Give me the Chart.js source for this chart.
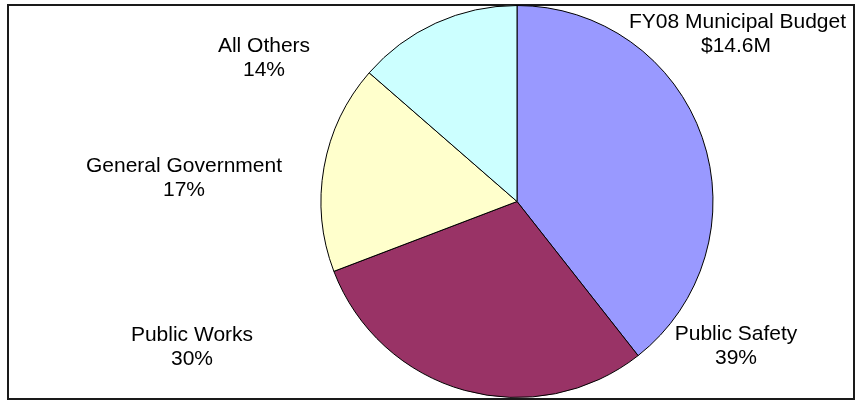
<!DOCTYPE html>
<html>
<head>
<meta charset="utf-8">
<script src="https://cdn.jsdelivr.net/npm/chart.js@4/dist/chart.umd.min.js"></script>
<style>
  html, body { margin: 0; padding: 0; background: #ffffff; }
  #wrap { width: 857px; height: 403px; position: relative; }
</style>
</head>
<body>
<div id="wrap"><canvas id="c" width="857" height="403"></canvas></div>
<script>
// ---- data ----
const categories = ["Public Safety", "Public Works", "General Government", "All Others"];
const shares = [39.4, 29.8, 17.2, 13.6];
const titleLines = ["FY08 Municipal Budget", "$14.6M"];

// ---- styling / layout (not data) ----
const sliceColors = ["#9999FF", "#993366", "#FFFFCC", "#CCFFFF"];
const labelPos = [
  { x: 736, y: 340 },   // Public Safety
  { x: 192, y: 341 },   // Public Works
  { x: 184, y: 172 },   // General Government
  { x: 264, y: 52 }     // All Others
];
const titlePos = [{ x: 737.5, y: 28 }, { x: 736, y: 52 }];
const FONT = '21px "Liberation Sans", Arial, sans-serif';
const LINE = 24;

const total = shares.reduce((a, b) => a + b, 0);

const framePlugin = {
  id: 'frame',
  beforeDraw(chart) {
    const ctx = chart.ctx;
    ctx.save();
    ctx.fillStyle = '#ffffff';
    ctx.fillRect(0, 0, chart.width, chart.height);
    ctx.strokeStyle = '#1a1a1a';
    ctx.lineWidth = 2;
    ctx.strokeRect(8, 5, 846, 394);
    ctx.restore();
  }
};

const labelPlugin = {
  id: 'outLabels',
  afterDatasetsDraw(chart) {
    const ctx = chart.ctx;
    ctx.save();
    ctx.font = FONT;
    ctx.fillStyle = '#000000';
    ctx.textAlign = 'center';
    ctx.textBaseline = 'alphabetic';
    const meta = chart.getDatasetMeta(0);
    meta.data.forEach((arc, i) => {
      const p = labelPos[i];
      const pct = Math.round(shares[i] / total * 100) + '%';
      ctx.fillText(categories[i], p.x, p.y);
      ctx.fillText(pct, p.x, p.y + LINE);
    });
    titleLines.forEach((t, i) => ctx.fillText(t, titlePos[i].x, titlePos[i].y));
    ctx.restore();
  }
};

new Chart(document.getElementById('c'), {
  type: 'pie',
  data: {
    labels: categories,
    datasets: [{
      data: shares,
      backgroundColor: sliceColors,
      borderColor: '#000000',
      borderWidth: 1,
      borderAlign: 'center'
    }]
  },
  options: {
    responsive: false,
    animation: false,
    devicePixelRatio: 1,
    rotation: 0,
    layout: { padding: { left: 320, right: 143, top: 5, bottom: 5 } },
    plugins: {
      legend: { display: false },
      tooltip: { enabled: false },
      title: { display: false }
    }
  },
  plugins: [framePlugin, labelPlugin]
});
</script>
</body>
</html>
